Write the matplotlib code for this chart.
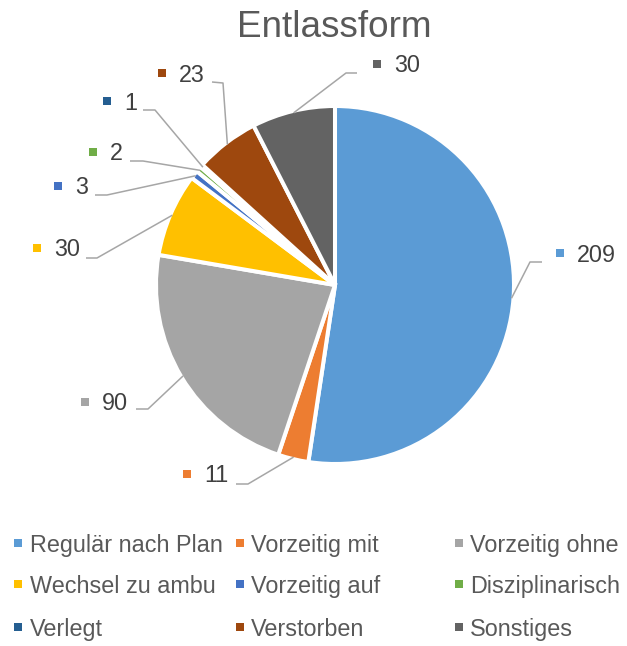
import numpy as np
import matplotlib
matplotlib.use("Agg")
import matplotlib.pyplot as plt

plt.rcParams["font.family"] = ["Liberation Sans", "DejaVu Sans"]

# data
categories = ["Regulär nach Plan", "Vorzeitig mit", "Vorzeitig ohne",
              "Wechsel zu ambu", "Vorzeitig auf", "Disziplinarisch",
              "Verlegt", "Verstorben", "Sonstiges"]
values = [209, 11, 90, 30, 3, 2, 1, 23, 30]
colors = ["#5B9BD5", "#ED7D31", "#A5A5A5", "#FFC000", "#4472C4",
          "#70AD47", "#255E91", "#9E480E", "#636363"]

# layout (pixel coords, origin top-left)
W, H = 627, 646
center_px = (335, 285)
radius_px = 179
label_marker = [(560, 253), (187, 474), (85, 402), (37, 248), (58, 186),
                (93, 152), (107, 101), (162, 73), (377, 64)]
leader_end = [(542, 262), (236, 484), (136, 409), (86, 258), (95, 195),
              (130, 161), (143, 110), (212, 82), (357, 73)]
leader_elbow = [(530, 262), (248, 484), (148, 409), (97, 258), (107, 195),
                (143, 161), (155, 110), (223, 83), (346, 73)]
legend_cols = [(18, 30), (240, 251), (459, 470)]
legend_rows = [543, 584, 627]


def py(y):
    return H - y


fig = plt.figure(figsize=(W / 100, H / 100), dpi=100)
ax = fig.add_axes([0, 0, 1, 1])
ax.set_xlim(0, W)
ax.set_ylim(0, H)
ax.set_aspect("equal")
ax.axis("off")

cx, cy = center_px[0], py(center_px[1])
wedges, _ = ax.pie(values, colors=colors, startangle=90, counterclock=False,
                   center=(cx, cy), radius=radius_px, frame=True,
                   wedgeprops=dict(edgecolor="white", linewidth=2.9))
ax.set_xlim(0, W)
ax.set_ylim(0, H)
ax.axis("off")

line_col = "#A6A6A6"
r_start = radius_px - 2
for i, w in enumerate(wedges):
    mid = np.deg2rad((w.theta1 + w.theta2) / 2)
    sx, sy = cx + r_start * np.cos(mid), cy + r_start * np.sin(mid)
    ex, ey = leader_elbow[i]
    tx, ty = leader_end[i]
    ax.plot([sx, ex, tx], [sy, py(ey), py(ty)], color=line_col, lw=1.1,
            solid_capstyle="butt", zorder=1)
    mx, my = label_marker[i]
    ax.scatter([mx], [py(my)], marker="s", s=38, color=colors[i],
               linewidths=0, zorder=3)
    ax.text(mx + 17, py(my + 8.5), str(values[i]), fontsize=16.8,
            color="#404040", ha="left", va="baseline")

# legend (row-wise, 3 columns)
for i, cat in enumerate(categories):
    row, col = divmod(i, 3)
    mx, tx = legend_cols[col]
    y = legend_rows[row]
    ax.scatter([mx], [py(y)], marker="s", s=38, color=colors[i],
               linewidths=0, zorder=3)
    ax.text(tx, py(y + 9), cat, fontsize=16.8, color="#595959",
            ha="left", va="baseline")

ax.text(334, py(37), "Entlassform", fontsize=26.6, color="#595959",
        ha="center", va="baseline")

fig.savefig("out.png", dpi=100, facecolor="white")
